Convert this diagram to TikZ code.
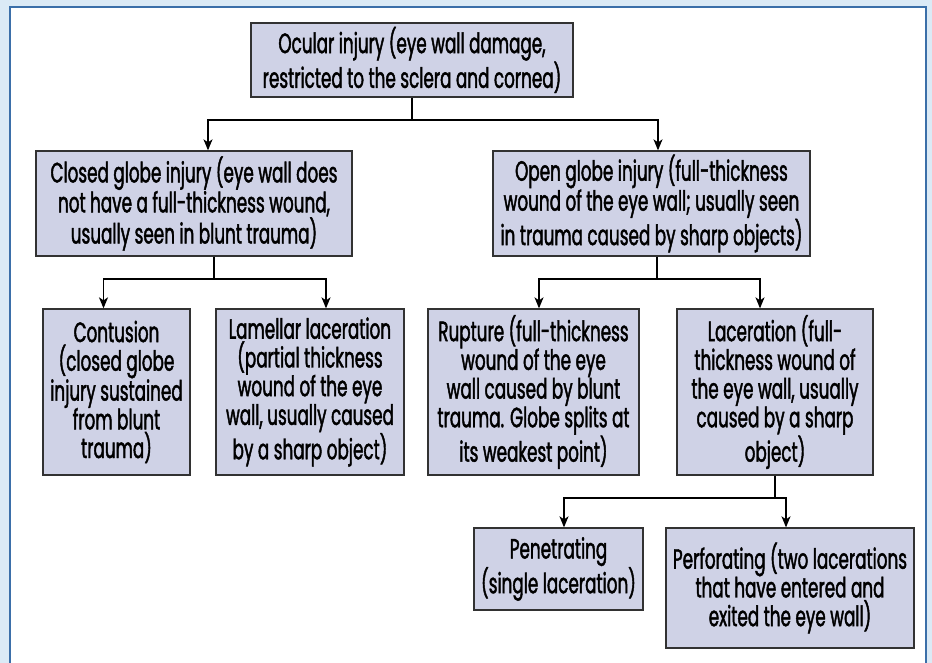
\documentclass[tikz,border=0pt]{standalone}
\usepackage{fontspec}
\setmainfont{Poppins}[FakeStretch=0.60, FakeBold=1.5]
\usetikzlibrary{arrows.meta}
\definecolor{bgblue}{RGB}{219,234,246}
\definecolor{frameblue}{RGB}{59,111,169}
\definecolor{boxfill}{RGB}{207,210,230}
\definecolor{boxline}{RGB}{50,50,50}
\tikzset{
  box/.style={draw=boxline, fill=boxfill, line width=1.3pt, inner sep=0pt,
    align=center, font=\fontsize{28}{28.7}\selectfont, text=black},
  arr/.style={line width=1.3pt, draw=black, -{Stealth[length=11pt,width=9pt,inset=3pt]}},
  ln/.style={line width=1.3pt, draw=black}
}
\begin{document}
\begin{tikzpicture}[x=1pt,y=-1pt]
\useasboundingbox (0,0) rectangle (932,663);
\fill[bgblue] (0,0) rectangle (932,663);
\fill[white] (10,7) rectangle (926,670);
\draw[frameblue, line width=2.5pt] (10,670) -- (10,7) -- (926,7) -- (926,670);

\node[box, minimum width=322pt, minimum height=74pt] (top) at (412,60)
  {Ocular injury (eye wall damage,\\restricted to the sclera and cornea)};
\node[box, minimum width=316pt, minimum height=105pt] (closed) at (194,203.5)
  {Closed globe injury (eye wall does\\not have a full-thickness wound,\\usually seen in blunt trauma)};
\node[box, minimum width=317pt, minimum height=105pt] (open) at (651.5,203.5)
  {Open globe injury (full-thickness\\wound of the eye wall; usually seen\\in trauma caused by sharp objects)};
\node[box, minimum width=147pt, minimum height=166pt] (contusion) at (116.5,392)
  {Contusion\\(closed globe\\injury sustained\\from blunt\\trauma)};
\node[box, minimum width=188pt, minimum height=166pt] (lamellar) at (310,392)
  {Lamellar laceration\\(partial thickness\\wound of the eye\\wall, usually caused\\by a sharp object)};
\node[box, minimum width=211pt, minimum height=166pt] (rupture) at (533.5,392)
  {Rupture (full-thickness\\wound of the eye\\wall caused by blunt\\trauma. Globe splits at\\its weakest point)};
\node[box, minimum width=196pt, minimum height=166pt] (laceration) at (775,392)
  {Laceration (full-\\thickness wound of\\the eye wall, usually\\caused by a sharp\\object)};
\node[box, minimum width=169pt, minimum height=82pt] (penetrating) at (558.5,569)
  {Penetrating\\(single laceration)};
\node[box, minimum width=248pt, minimum height=120pt] (perforating) at (790,588)
  {Perforating (two lacerations\\that have entered and\\exited the eye wall)};

% junctions
\coordinate (j1) at (412,120);
\coordinate (j2) at (214,279);
\coordinate (j3) at (657,279);
\coordinate (j4) at (775,498);

\draw[ln] (top.south) -- (j1);
\draw[arr] (j1) -| ([xshift=14pt]closed.north);
\draw[arr] (j1) -| ([xshift=6.5pt]open.north);

\draw[ln] (closed.south -| j2) -- (j2);
\draw[arr] (j2) -| ([xshift=-13pt]contusion.north);
\draw[arr] (j2) -| ([xshift=16pt]lamellar.north);

\draw[ln] (open.south -| j3) -- (j3);
\draw[arr] (j3) -| ([xshift=5.5pt]rupture.north);
\draw[arr] (j3) -| ([xshift=-15pt]laceration.north);

\draw[ln] (laceration.south) -- (j4);
\draw[arr] (j4) -| ([xshift=5.5pt]penetrating.north);
\draw[arr] (j4) -| ([xshift=-4pt]perforating.north);
\end{tikzpicture}
\end{document}
